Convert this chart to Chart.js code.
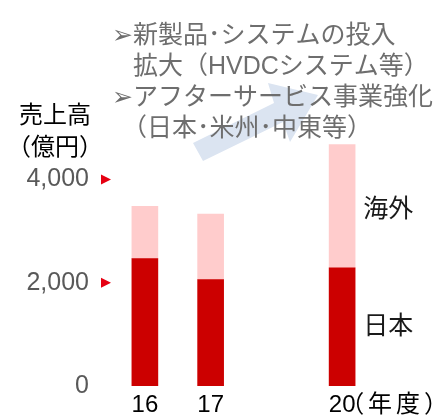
<!DOCTYPE html>
<html>
<head>
<meta charset="utf-8">
<script src="https://cdn.jsdelivr.net/npm/chart.js@4/dist/chart.umd.min.js"></script>
<style>
  html, body { margin: 0; padding: 0; background: #fff; }
</style>
</head>
<body>
<canvas id="sales-chart" width="438" height="419"></canvas>
<script>
// chart data
var years = ['16', '17', '', '20'];        // empty slot = gap before FY20
var japanSales = [2470, 2060, null, 2290];
var overseasSales = [1010, 1270, null, 2390];
var yTickValues = [0, 2000, 4000];

// texts
var segmentNames = ['日本', '海外'];
var yearUnit = '（年度）';
var titleLines = ['売上高', '（億円）'];
var noteLines = ['➢新製品･システムの投入', '拡大（HVDCシステム等）', '➢アフターサービス事業強化', '（日本･米州･中東等）'];

var latinFont = '"Liberation Sans", Arial, "Noto Sans CJK JP", sans-serif';
var cjkFont = '"Liberation Sans", "Noto Sans CJK JP", sans-serif';

// extra drawing: arrow, tick marks, labels
var extrasPlugin = {
  id: 'extras',
  beforeDatasetsDraw: function(chart){
    var ctx = chart.ctx;
    // light blue growth arrow behind the notes
    ctx.save();
    ctx.fillStyle = '#dbe4f1';
    ctx.beginPath();
    ctx.moveTo(203, 161);
    ctx.lineTo(193, 143);
    ctx.lineTo(274, 103);
    ctx.lineTo(268, 83);
    ctx.lineTo(318, 95);
    ctx.lineTo(290, 142);
    ctx.lineTo(283, 122);
    ctx.closePath();
    ctx.fill();
    ctx.restore();
  },
  afterDraw: function(chart){
    var ctx = chart.ctx;
    var yScale = chart.scales.y;
    var xScale = chart.scales.x;
    ctx.save();

    // red triangles next to the y tick labels
    ctx.fillStyle = '#e60012';
    yTickValues.forEach(function(v){
      if (v == 0) return;
      var y = yScale.getPixelForValue(v);
      ctx.beginPath();
      ctx.moveTo(101, y - 5);
      ctx.lineTo(111, y);
      ctx.lineTo(101, y + 5);
      ctx.closePath();
      ctx.fill();
    });

    // unit after the last year label
    var lastIdx = years.length - 1;
    ctx.fillStyle = '#000';
    ctx.textAlign = 'left';
    ctx.textBaseline = 'middle';
    ctx.font = '24px ' + cjkFont;
    ctx.letterSpacing = '4px';
    ctx.fillText(yearUnit, xScale.getPixelForValue(lastIdx) - 2, 405);
    ctx.letterSpacing = '0px';

    // segment names beside the FY20 bar
    ctx.fillStyle = '#1a1a1a';
    ctx.font = '25px ' + cjkFont;
    for (var i = 0; i < 2; i++){
      var bar = chart.getDatasetMeta(i).data[lastIdx];
      var mid = (bar.y + bar.base) / 2;
      ctx.fillText(segmentNames[i], bar.x + bar.width / 2 + 8, i == 1 ? mid + 4 : mid);
    }

    // axis title
    ctx.fillStyle = '#000';
    ctx.font = '24px ' + cjkFont;
    ctx.textAlign = 'center';
    ctx.fillText(titleLines[0], 55, 116);
    ctx.fillText(titleLines[1], 55, 148);

    // notes
    ctx.fillStyle = '#6e6e6e';
    ctx.font = '25px ' + cjkFont;
    ctx.textAlign = 'left';
    var noteX = [112, 133, 112, 122];
    for (var j = 0; j < noteLines.length; j++){
      ctx.fillText(noteLines[j], noteX[j], 36 + j * 31);
    }
    ctx.restore();
  }
};

var ctx = document.getElementById('sales-chart').getContext('2d');
var salesChart = new Chart(ctx, {
  type: 'bar',
  data: {
    labels: years,
    datasets: [
      { label: segmentNames[0], data: japanSales, backgroundColor: '#cc0000', barThickness: 26 },
      { label: segmentNames[1], data: overseasSales, backgroundColor: '#ffcccc', barThickness: 26 }
    ]
  },
  options: {
    responsive: false,
    animation: false,
    layout: { padding: { top: 128, right: 63, left: 0, bottom: 0 } },
    plugins: { legend: { display: false }, tooltip: { enabled: false } },
    scales: {
      x: {
        stacked: true,
        grid: { display: false, drawTicks: false },
        border: { display: false },
        ticks: { color: '#000', font: { family: latinFont, size: 24 }, padding: 5 },
        afterFit: function(axis){ axis.height = 33; }
      },
      y: {
        stacked: true,
        min: 0,
        max: 5000,
        // tick marks hidden, tickLength only keeps labels away from the bars
        grid: { display: false, drawTicks: true, tickLength: 23 },
        border: { display: false },
        afterBuildTicks: function(axis){
          axis.ticks = yTickValues.map(function(v){ return { value: v }; });
        },
        ticks: {
          color: '#595959',
          font: { family: latinFont, size: 25 },
          padding: 0,
          callback: function(v){ return v.toLocaleString('en-US'); }
        },
        afterFit: function(axis){ axis.width = 112; }
      }
    }
  },
  plugins: [extrasPlugin]
});
</script>
</body>
</html>
